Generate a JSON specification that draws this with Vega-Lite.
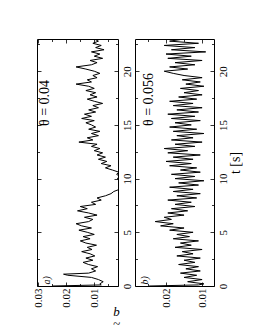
{
  "$schema": "https://vega.github.io/schema/vega-lite/v6.json",
  "padding": {"left": 31, "top": 38, "right": 0, "bottom": 0},
  "spacing": 1,
  "config": {
    "font": "Liberation Serif",
    "view": {"stroke": "black", "strokeWidth": 1},
    "axis": {"domain": false, "grid": false, "labelFont": "Liberation Serif", "labelFontSize": 11, "labelColor": "black", "tickColor": "black", "tickWidth": 0.8, "titleFont": "Liberation Serif", "titleFontWeight": "normal", "titleColor": "black"}
  },
  "datasets": {
    "a": [
      {"t":0,"b":0.025},{"t":0.1,"b":0.0075},{"t":0.2,"b":0.008},{"t":0.4,"b":0.0068},{"t":0.6,"b":0.0085},{"t":0.8,"b":0.011},{"t":1.0,"b":0.0195},{"t":1.1,"b":0.021},{"t":1.2,"b":0.012},{"t":1.4,"b":0.0095},{"t":1.6,"b":0.011},{"t":1.8,"b":0.0088},{"t":2.0,"b":0.012},{"t":2.2,"b":0.014},{"t":2.4,"b":0.0105},{"t":2.6,"b":0.013},{"t":2.8,"b":0.0098},{"t":3.0,"b":0.0115},{"t":3.2,"b":0.0145},{"t":3.4,"b":0.0108},{"t":3.6,"b":0.0125},{"t":3.8,"b":0.0092},{"t":4.0,"b":0.013},{"t":4.2,"b":0.015},{"t":4.4,"b":0.0115},{"t":4.6,"b":0.014},{"t":4.8,"b":0.01},{"t":5.0,"b":0.0125},{"t":5.2,"b":0.0155},{"t":5.4,"b":0.011},{"t":5.6,"b":0.0145},{"t":5.8,"b":0.0165},{"t":6.0,"b":0.012},{"t":6.2,"b":0.0105},{"t":6.4,"b":0.0135},{"t":6.6,"b":0.009},{"t":6.8,"b":0.012},{"t":7.0,"b":0.016},{"t":7.2,"b":0.0125},{"t":7.4,"b":0.015},{"t":7.6,"b":0.0095},{"t":7.8,"b":0.011},{"t":8.0,"b":0.0075},{"t":8.2,"b":0.009},{"t":8.4,"b":0.006},{"t":8.6,"b":0.004},{"t":8.8,"b":0.003},{"t":9.0,"b":0.001},{"t":9.2,"b":0.0005},{"t":9.4,"b":0.0008},{"t":9.6,"b":0.0003},{"t":9.8,"b":0.001},{"t":10.0,"b":0.0018},{"t":10.2,"b":0.0008},{"t":10.4,"b":0.002},{"t":10.6,"b":0.0012},{"t":10.8,"b":0.0035},{"t":11.0,"b":0.006},{"t":11.2,"b":0.004},{"t":11.4,"b":0.0075},{"t":11.6,"b":0.0055},{"t":11.8,"b":0.0085},{"t":12.0,"b":0.006},{"t":12.2,"b":0.009},{"t":12.4,"b":0.007},{"t":12.6,"b":0.01},{"t":12.8,"b":0.008},{"t":13.0,"b":0.011},{"t":13.2,"b":0.009},{"t":13.4,"b":0.0155},{"t":13.6,"b":0.0105},{"t":13.8,"b":0.0125},{"t":14.0,"b":0.0085},{"t":14.2,"b":0.011},{"t":14.4,"b":0.008},{"t":14.6,"b":0.012},{"t":14.8,"b":0.0095},{"t":15.0,"b":0.011},{"t":15.2,"b":0.013},{"t":15.4,"b":0.01},{"t":15.6,"b":0.0145},{"t":15.8,"b":0.011},{"t":16.0,"b":0.0135},{"t":16.2,"b":0.0095},{"t":16.4,"b":0.012},{"t":16.6,"b":0.0085},{"t":16.8,"b":0.0105},{"t":17.0,"b":0.007},{"t":17.2,"b":0.01},{"t":17.4,"b":0.0125},{"t":17.6,"b":0.009},{"t":17.8,"b":0.0115},{"t":18.0,"b":0.0095},{"t":18.2,"b":0.013},{"t":18.4,"b":0.01},{"t":18.6,"b":0.012},{"t":18.8,"b":0.0165},{"t":19.0,"b":0.011},{"t":19.2,"b":0.0125},{"t":19.4,"b":0.009},{"t":19.6,"b":0.0105},{"t":19.8,"b":0.008},{"t":20.0,"b":0.01},{"t":20.2,"b":0.013},{"t":20.4,"b":0.0165},{"t":20.6,"b":0.011},{"t":20.8,"b":0.009},{"t":21.0,"b":0.0115},{"t":21.2,"b":0.007},{"t":21.4,"b":0.01},{"t":21.6,"b":0.008},{"t":21.8,"b":0.011},{"t":22.0,"b":0.0065},{"t":22.2,"b":0.0095},{"t":22.4,"b":0.0075},{"t":22.6,"b":0.0105},{"t":22.8,"b":0.0085},{"t":23.0,"b":0.01}
    ],
    "b": [
      {"t":0,"b":0.0247},{"t":0.1,"b":0.011},{"t":0.2,"b":0.0095},{"t":0.4,"b":0.014},{"t":0.6,"b":0.01},{"t":0.8,"b":0.015},{"t":1.0,"b":0.0115},{"t":1.2,"b":0.016},{"t":1.4,"b":0.0105},{"t":1.6,"b":0.0145},{"t":1.8,"b":0.011},{"t":2.0,"b":0.0165},{"t":2.2,"b":0.012},{"t":2.4,"b":0.015},{"t":2.6,"b":0.0105},{"t":2.8,"b":0.017},{"t":3.0,"b":0.0125},{"t":3.2,"b":0.0155},{"t":3.4,"b":0.01},{"t":3.6,"b":0.0175},{"t":3.8,"b":0.013},{"t":4.0,"b":0.016},{"t":4.2,"b":0.011},{"t":4.4,"b":0.018},{"t":4.6,"b":0.0135},{"t":4.8,"b":0.017},{"t":5.0,"b":0.0125},{"t":5.2,"b":0.019},{"t":5.4,"b":0.015},{"t":5.6,"b":0.0215},{"t":5.8,"b":0.018},{"t":6.0,"b":0.023},{"t":6.2,"b":0.0185},{"t":6.4,"b":0.0205},{"t":6.6,"b":0.015},{"t":6.8,"b":0.0195},{"t":7.0,"b":0.014},{"t":7.2,"b":0.0185},{"t":7.4,"b":0.012},{"t":7.6,"b":0.0175},{"t":7.8,"b":0.013},{"t":8.0,"b":0.0195},{"t":8.2,"b":0.0115},{"t":8.4,"b":0.017},{"t":8.6,"b":0.0105},{"t":8.8,"b":0.018},{"t":9.0,"b":0.0125},{"t":9.2,"b":0.019},{"t":9.4,"b":0.011},{"t":9.6,"b":0.0165},{"t":9.8,"b":0.0095},{"t":10.0,"b":0.0175},{"t":10.2,"b":0.012},{"t":10.4,"b":0.0185},{"t":10.6,"b":0.0105},{"t":10.8,"b":0.016},{"t":11.0,"b":0.0115},{"t":11.2,"b":0.019},{"t":11.4,"b":0.013},{"t":11.6,"b":0.02},{"t":11.8,"b":0.0125},{"t":12.0,"b":0.018},{"t":12.2,"b":0.0105},{"t":12.4,"b":0.0195},{"t":12.6,"b":0.014},{"t":12.8,"b":0.0205},{"t":13.0,"b":0.012},{"t":13.2,"b":0.0175},{"t":13.4,"b":0.01},{"t":13.6,"b":0.0185},{"t":13.8,"b":0.0125},{"t":14.0,"b":0.017},{"t":14.2,"b":0.0095},{"t":14.4,"b":0.018},{"t":14.6,"b":0.0115},{"t":14.8,"b":0.019},{"t":15.0,"b":0.013},{"t":15.2,"b":0.0175},{"t":15.4,"b":0.0105},{"t":15.6,"b":0.0185},{"t":15.8,"b":0.012},{"t":16.0,"b":0.0195},{"t":16.2,"b":0.011},{"t":16.4,"b":0.017},{"t":16.6,"b":0.01},{"t":16.8,"b":0.018},{"t":17.0,"b":0.0125},{"t":17.2,"b":0.019},{"t":17.4,"b":0.0115},{"t":17.6,"b":0.0165},{"t":17.8,"b":0.01},{"t":18.0,"b":0.015},{"t":18.2,"b":0.011},{"t":18.4,"b":0.016},{"t":18.6,"b":0.0095},{"t":18.8,"b":0.0145},{"t":19.0,"b":0.0105},{"t":19.2,"b":0.0155},{"t":19.4,"b":0.01},{"t":19.6,"b":0.015},{"t":19.8,"b":0.018},{"t":20.0,"b":0.0205},{"t":20.2,"b":0.014},{"t":20.4,"b":0.019},{"t":20.6,"b":0.012},{"t":20.8,"b":0.0175},{"t":21.0,"b":0.01},{"t":21.2,"b":0.0195},{"t":21.4,"b":0.013},{"t":21.6,"b":0.02},{"t":21.8,"b":0.009},{"t":22.0,"b":0.0185},{"t":22.2,"b":0.012},{"t":22.4,"b":0.0205},{"t":22.6,"b":0.011},{"t":22.8,"b":0.019},{"t":23.0,"b":0.015}
    ]
  },
  "hconcat": [
    {
      "width": 81, "height": 247,
      "layer": [
        {
          "data": {"name": "a"},
          "mark": {"type": "line", "color": "black", "strokeWidth": 1, "clip": true},
          "encoding": {
            "x": {"field": "b", "type": "quantitative", "scale": {"domain": [0.0015, 0.0305], "reverse": true, "nice": false, "zero": false},
              "axis": {"orient": "bottom", "values": [0.005,0.01,0.015,0.02,0.025,0.03], "labelExpr": "round(datum.value*1000) % 10 == 0 ? format(datum.value, '.2f') : ''", "tickSize": {"condition": {"test": "round(datum.value*1000) % 10 != 0", "value": -2.5}, "value": -4}, "labelAngle": 270, "labelAlign": "right", "labelBaseline": "middle", "labelPadding": 6,
                "title": ["b", "~"], "titleAngle": 0, "titleX": 79, "titleY": 19, "titleAlign": "center", "titleBaseline": "top", "titleFontSize": 13, "titleFontStyle": "italic", "titleLineHeight": 12}},
            "y": {"field": "t", "type": "quantitative", "scale": {"domain": [0, 23], "nice": false},
              "axis": {"orient": "right", "values": [0,2.5,5,7.5,10,12.5,15,17.5,20,22.5], "labelExpr": "datum.value % 5 == 0 ? datum.label : ''", "tickSize": {"condition": {"test": "datum.value % 5 != 0", "value": -2.5}, "value": -4}, "labelAngle": 270, "labelAlign": "center", "labelBaseline": "top", "labelPadding": 7, "title": null}},
            "order": {"field": "t"}
          }
        },
        {
          "data": {"name": "a"},
          "mark": {"type": "line", "opacity": 0},
          "encoding": {
            "x": {"field": "b", "type": "quantitative", "axis": {"orient": "top", "values": [0.005,0.01,0.015,0.02,0.025,0.03], "labels": false, "title": null, "tickSize": {"condition": {"test": "round(datum.value*1000) % 10 != 0", "value": -2.5}, "value": -4}}},
            "y": {"field": "t", "type": "quantitative", "axis": {"orient": "left", "values": [0,2.5,5,7.5,10,12.5,15,17.5,20,22.5], "labels": false, "title": null, "tickSize": {"condition": {"test": "datum.value % 5 != 0", "value": -2.5}, "value": -4}}}
          }
        },
        {
          "data": {"values": [{}]},
          "mark": {"type": "text", "text": "θ = 0.04", "angle": 270, "align": "left", "baseline": "middle", "fontSize": 14, "font": "Liberation Serif", "color": "black"},
          "encoding": {"x": {"datum": 0.0278, "type": "quantitative", "axis": null}, "y": {"datum": 14.9, "type": "quantitative", "axis": null}}
        },
        {
          "data": {"values": [{}]},
          "mark": {"type": "text", "text": "a)", "angle": 270, "align": "left", "baseline": "middle", "fontSize": 10, "fontStyle": "italic", "font": "Liberation Serif", "color": "black"},
          "encoding": {"x": {"datum": 0.027, "type": "quantitative", "axis": null}, "y": {"datum": 0.15, "type": "quantitative", "axis": null}}
        }
      ],
      "resolve": {"axis": {"x": "independent", "y": "independent"}}
    },
    {
      "width": 79, "height": 247,
      "layer": [
        {
          "data": {"name": "b"},
          "mark": {"type": "line", "color": "black", "strokeWidth": 1, "clip": true},
          "encoding": {
            "x": {"field": "b", "type": "quantitative", "scale": {"domain": [0.0067, 0.0286], "reverse": true, "nice": false, "zero": false},
              "axis": {"orient": "bottom", "values": [0.01,0.015,0.02,0.025], "labelExpr": "round(datum.value*1000) % 10 == 0 ? format(datum.value, '.2f') : ''", "tickSize": {"condition": {"test": "round(datum.value*1000) % 10 != 0", "value": -2.5}, "value": -4}, "labelAngle": 270, "labelAlign": "right", "labelBaseline": "middle", "labelPadding": 6, "title": null}},
            "y": {"field": "t", "type": "quantitative", "scale": {"domain": [0, 23], "nice": false},
              "axis": {"orient": "right", "values": [0,2.5,5,7.5,10,12.5,15,17.5,20,22.5], "labelExpr": "datum.value % 5 == 0 ? datum.label : ''", "tickSize": {"condition": {"test": "datum.value % 5 != 0", "value": -2.5}, "value": -4}, "labelAngle": 270, "labelAlign": "center", "labelBaseline": "top", "labelPadding": 7,
                "title": "t [s]", "titleAngle": 270, "titleBaseline": "top", "titleFontSize": 14, "titlePadding": 0}},
            "order": {"field": "t"}
          }
        },
        {
          "data": {"name": "b"},
          "mark": {"type": "line", "opacity": 0},
          "encoding": {
            "x": {"field": "b", "type": "quantitative", "axis": {"orient": "top", "values": [0.01,0.015,0.02,0.025], "labels": false, "title": null, "tickSize": {"condition": {"test": "round(datum.value*1000) % 10 != 0", "value": -2.5}, "value": -4}}},
            "y": {"field": "t", "type": "quantitative", "axis": {"orient": "left", "values": [0,2.5,5,7.5,10,12.5,15,17.5,20,22.5], "labels": false, "title": null, "tickSize": {"condition": {"test": "datum.value % 5 != 0", "value": -2.5}, "value": -4}}}
          }
        },
        {
          "data": {"values": [{}]},
          "mark": {"type": "text", "text": "θ = 0.056", "angle": 270, "align": "left", "baseline": "middle", "fontSize": 14, "font": "Liberation Serif", "color": "black"},
          "encoding": {"x": {"datum": 0.0247, "type": "quantitative", "axis": null}, "y": {"datum": 14.9, "type": "quantitative", "axis": null}}
        },
        {
          "data": {"values": [{}]},
          "mark": {"type": "text", "text": "b)", "angle": 270, "align": "left", "baseline": "middle", "fontSize": 10, "fontStyle": "italic", "font": "Liberation Serif", "color": "black"},
          "encoding": {"x": {"datum": 0.0258, "type": "quantitative", "axis": null}, "y": {"datum": 0.15, "type": "quantitative", "axis": null}}
        }
      ],
      "resolve": {"axis": {"x": "independent", "y": "independent"}}
    }
  ]
}
